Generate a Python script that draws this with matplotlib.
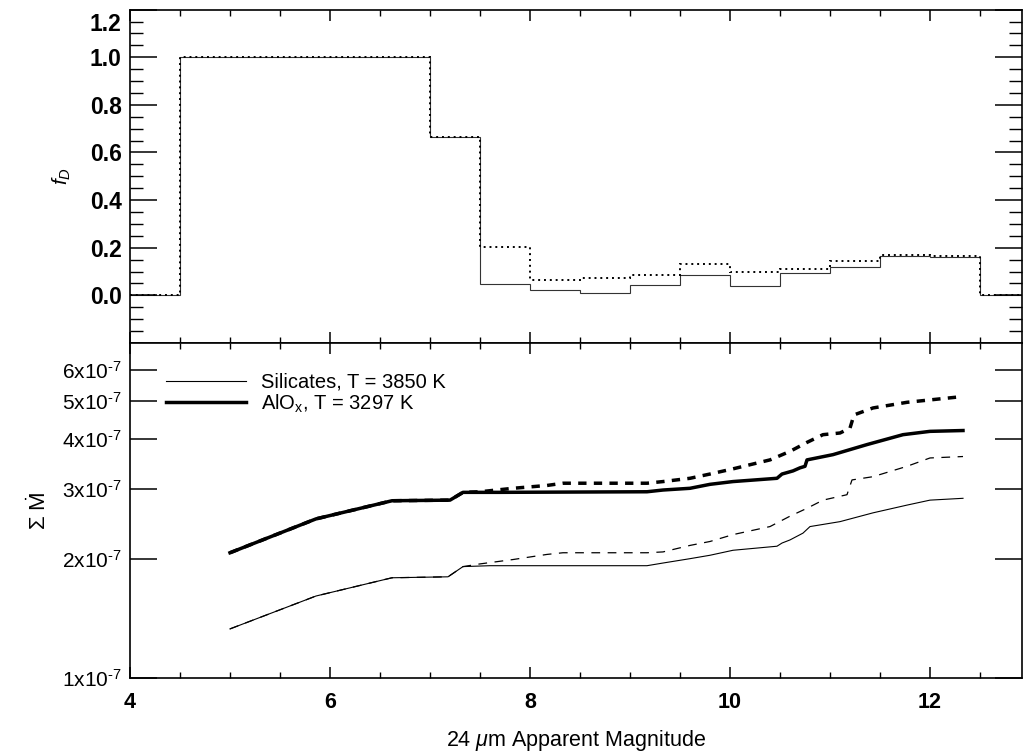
import numpy as np
import matplotlib
matplotlib.use("Agg")
import matplotlib.pyplot as plt
import matplotlib.transforms as mtransforms
from matplotlib.ticker import FixedLocator, MultipleLocator, NullLocator

plt.rcParams['font.family'] = ['Liberation Sans', 'DejaVu Sans']
plt.rcParams['mathtext.fontset'] = 'custom'
plt.rcParams['mathtext.rm'] = 'Liberation Sans'
plt.rcParams['mathtext.sf'] = 'Liberation Sans'
plt.rcParams['mathtext.it'] = 'Liberation Sans:italic'

# ---------------- top panel: fraction f_D per 0.5 mag bin ----------------
bin_edges = [4.0, 4.5, 5.0, 5.5, 6.0, 6.5, 7.0, 7.5, 8.0, 8.5, 9.0, 9.5,
             10.0, 10.5, 11.0, 11.5, 12.0, 12.5, 13.0]
fd_solid = [0.0, 1.0, 1.0, 1.0, 1.0, 1.0, 0.667, 0.049, 0.024, 0.010, 0.042,
            0.087, 0.038, 0.094, 0.118, 0.164, 0.162, 0.0]
fd_dotted = [0.0, 1.0, 1.0, 1.0, 1.0, 1.0, 0.667, 0.203, 0.066, 0.071, 0.087,
             0.132, 0.097, 0.112, 0.146, 0.168, 0.164, 0.0]
fd_ticks = [0.0, 0.2, 0.4, 0.6, 0.8, 1.0, 1.2]
fd_tick_labels = ['0.0', '0.2', '0.4', '0.6', '0.8', '1.0', '1.2']

# ---------------- bottom panel: cumulative mass-loss ----------------
sil_x = [5.00, 5.86, 6.62, 7.18, 7.33, 7.60, 9.17, 9.33, 9.60, 9.80, 10.03,
         10.47, 10.52, 10.60, 10.73, 10.80, 11.10, 11.43, 11.77, 12.00, 12.33]
sil_y = [1.33, 1.61, 1.79, 1.80, 1.91, 1.92, 1.92, 1.95, 2.00, 2.04, 2.10,
         2.15, 2.19, 2.23, 2.32, 2.41, 2.48, 2.61, 2.73, 2.81, 2.84]

sil_d_x = [5.00, 5.86, 6.62, 7.18, 7.33, 7.50, 7.83, 8.17, 8.33, 9.17, 9.33,
           9.60, 9.80, 10.03, 10.40, 10.60, 10.77, 10.93, 11.17, 11.22, 11.43,
           11.77, 12.00, 12.33]
sil_d_y = [1.33, 1.61, 1.79, 1.80, 1.91, 1.94, 1.99, 2.05, 2.07, 2.07, 2.08,
           2.16, 2.21, 2.30, 2.41, 2.56, 2.68, 2.81, 2.90, 3.16, 3.22,
           3.42, 3.59, 3.62]

alo_x = [5.00, 5.86, 6.62, 7.20, 7.33, 7.70, 9.17, 9.33, 9.60, 9.80, 10.03,
         10.47, 10.52, 10.63, 10.70, 10.75, 10.77, 11.03, 11.37, 11.73, 12.00,
         12.33]
alo_y = [2.07, 2.52, 2.80, 2.81, 2.94, 2.94, 2.95, 2.98, 3.01, 3.08, 3.13,
         3.19, 3.27, 3.33, 3.39, 3.42, 3.55, 3.66, 3.88, 4.11, 4.19, 4.21]

alo_d_x = [5.00, 5.86, 6.62, 7.20, 7.33, 7.50, 7.83, 8.17, 8.33, 9.17, 9.33,
           9.60, 9.80, 10.03, 10.40, 10.60, 10.77, 10.93, 11.10, 11.20, 11.24,
           11.43, 11.77, 12.10, 12.33]
alo_d_y = [2.07, 2.52, 2.80, 2.81, 2.94, 2.95, 3.01, 3.06, 3.10, 3.10, 3.13,
           3.19, 3.27, 3.37, 3.55, 3.73, 3.93, 4.11, 4.15, 4.27, 4.61,
           4.80, 4.96, 5.06, 5.13]

scale = 1e-7
ytick_vals = [1, 2, 3, 4, 5, 6]
ytick_labels = ['%dx10$^{\\mathsf{\u20107}}$' % v for v in ytick_vals]

fig = plt.figure(figsize=(10.24, 7.55), dpi=100)
L, W = 130 / 1024, 892 / 1024
ax1 = fig.add_axes([L, 412 / 755, W, (745.4 - 412) / 755])
ax2 = fig.add_axes([L, 77 / 755, W, (412 - 77) / 755])

spine_lw = 1.2
for ax in (ax1, ax2):
    for s in ax.spines.values():
        s.set_linewidth(spine_lw)
    ax.set_xlim(4.0, 12.92)
    ax.xaxis.set_major_locator(MultipleLocator(2))
    ax.xaxis.set_minor_locator(MultipleLocator(0.5))
    ax.tick_params(axis='x', which='major', direction='in', length=8, width=1.1,
                   top=True, bottom=True, labelsize=15.5, pad=10)
    ax.tick_params(axis='x', which='minor', direction='in', length=4.3, width=1.0,
                   top=True, bottom=True)

# top panel
ax1.stairs(fd_solid, bin_edges, baseline=None, color='#333333', lw=0.8)
ax1.stairs(fd_dotted, bin_edges, baseline=None, color='black', lw=1.4,
           linestyle=(0, (1, 2)))
ax1.set_ylim(-0.2, 1.2)
ax1.yaxis.set_major_locator(FixedLocator(fd_ticks))
ax1.yaxis.set_minor_locator(MultipleLocator(0.05))
ax1.tick_params(axis='y', which='major', direction='in', length=19.5, width=1.1,
                left=True, right=True, labelsize=16.5, pad=6)
ax1.tick_params(axis='y', which='minor', direction='in', length=9.5, width=1.0,
                left=True, right=True)
ax1.set_yticklabels(fd_tick_labels, fontweight='bold')
ax1.tick_params(axis='x', labelbottom=False)
ax1.set_ylabel(r'$f_D$', fontsize=15, labelpad=12)
# the top tick label sits a little below the spine in the original
top_lbl = ax1.get_yticklabels()[-1]
top_lbl.set_transform(top_lbl.get_transform() +
                      mtransforms.ScaledTranslation(0, -12 / 100, fig.dpi_scale_trans))

# bottom panel
ax2.set_yscale('log')
l1, = ax2.plot(sil_x, np.array(sil_y) * scale, color='black', lw=0.8,
               label='Silicates, T = 3850 K')
ax2.plot(sil_d_x, np.array(sil_d_y) * scale, color='black', lw=0.9,
         linestyle=(0, (7, 6)))
l2, = ax2.plot(alo_x, np.array(alo_y) * scale, color='black', lw=2.5,
               label=r'AlO$_\mathsf{x}$, T = 3297 K')
ax2.plot(alo_d_x, np.array(alo_d_y) * scale, color='black', lw=2.5,
         linestyle=(0, (2.4, 2.1)))
ax2.set_ylim(1e-7, 7e-7)
ax2.yaxis.set_major_locator(FixedLocator([v * scale for v in ytick_vals]))
ax2.yaxis.set_minor_locator(NullLocator())
ax2.set_yticklabels(ytick_labels)
ax2.tick_params(axis='y', which='major', direction='in', length=19.5, width=1.1,
                left=True, right=True, labelsize=15, pad=6)
for t in ax2.get_xticklabels():
    t.set_fontweight('bold')
ax2.set_xlabel(r'24 $\mu$m Apparent Magnitude', fontsize=15.5, labelpad=11)
ax2.set_ylabel(r'$\Sigma\ \dot{\mathsf{M}}$', fontsize=16, fontweight='bold',
               labelpad=8)

ax2.legend(handles=[l1, l2], loc='upper left', bbox_to_anchor=(0.031, 0.935),
           frameon=False, fontsize=14.5, handlelength=4.0, handletextpad=0.75,
           labelspacing=0.03, borderaxespad=0)

fig.savefig('out.png', dpi=100)
